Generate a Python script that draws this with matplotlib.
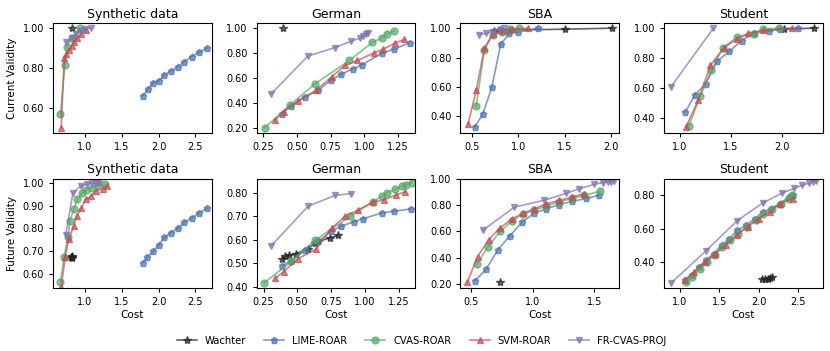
import matplotlib
matplotlib.use("Agg")
import matplotlib.pyplot as plt
from matplotlib.ticker import FormatStrFormatter

# ---- Synthetic data, current validity ----
syn_cur_wach_x = [0.82]
syn_cur_wach_y = [1.00]
syn_cur_lime_x = [1.79, 1.86, 1.93, 2.00, 2.08, 2.17, 2.26, 2.35, 2.45, 2.55, 2.66]
syn_cur_lime_y = [0.66, 0.694, 0.726, 0.733, 0.765, 0.785, 0.805, 0.83, 0.857, 0.879, 0.90]
syn_cur_cvas_x = [0.67, 0.73, 0.76, 0.82, 0.94]
syn_cur_cvas_y = [0.57, 0.815, 0.905, 0.95, 1.00]
syn_cur_svm_x = [0.68, 0.72, 0.75, 0.78, 0.82, 0.86, 0.90, 0.95, 1.02]
syn_cur_svm_y = [0.50, 0.85, 0.87, 0.89, 0.91, 0.93, 0.95, 0.97, 0.99]
syn_cur_fr_x = [0.75, 0.82, 0.88, 0.95, 1.00, 1.09]
syn_cur_fr_y = [0.93, 0.95, 0.97, 0.985, 0.995, 1.00]

# ---- German, current validity ----
ger_cur_wach_x = [0.395]
ger_cur_wach_y = [1.00]
ger_cur_lime_x = [0.387, 0.457, 0.557, 0.657, 0.75, 0.826, 0.92, 0.986, 1.13, 1.22, 1.34]
ger_cur_lime_y = [0.314, 0.376, 0.444, 0.50, 0.58, 0.628, 0.675, 0.707, 0.797, 0.83, 0.883]
ger_cur_cvas_x = [0.26, 0.45, 0.63, 0.89, 1.06, 1.13, 1.17, 1.225]
ger_cur_cvas_y = [0.20, 0.385, 0.55, 0.74, 0.886, 0.92, 0.954, 0.978]
ger_cur_svm_x = [0.337, 0.40, 0.507, 0.64, 0.76, 0.856, 0.95, 1.07, 1.14, 1.23, 1.30]
ger_cur_svm_y = [0.26, 0.33, 0.417, 0.50, 0.61, 0.70, 0.74, 0.80, 0.83, 0.88, 0.91]
ger_cur_fr_x = [0.307, 0.58, 0.78, 0.90, 0.97, 0.99, 1.01, 1.03]
ger_cur_fr_y = [0.471, 0.775, 0.843, 0.894, 0.92, 0.94, 0.95, 0.96]

# ---- SBA, current validity ----
sba_cur_wach_x = [0.73, 0.80, 0.90, 1.50, 2.02]
sba_cur_wach_y = [0.984, 0.985, 0.987, 0.993, 1.00]
sba_cur_lime_x = [0.525, 0.614, 0.71, 0.807, 0.90, 1.00, 1.21]
sba_cur_lime_y = [0.328, 0.418, 0.597, 0.89, 0.964, 0.973, 1.00]
sba_cur_cvas_x = [0.54, 0.63, 0.72, 0.82, 0.91, 1.01]
sba_cur_cvas_y = [0.468, 0.853, 0.955, 0.977, 0.995, 1.00]
sba_cur_svm_x = [0.453, 0.543, 0.63, 0.72, 0.836, 0.925, 1.10]
sba_cur_svm_y = [0.35, 0.58, 0.864, 0.96, 0.98, 0.993, 1.00]
sba_cur_fr_x = [0.57, 0.65, 0.72, 0.80, 0.84]
sba_cur_fr_y = [0.955, 0.965, 0.975, 0.99, 1.00]

# ---- Student, current validity ----
stu_cur_wach_x = [2.02, 2.32]
stu_cur_wach_y = [0.993, 1.00]
stu_cur_lime_x = [1.055, 1.145, 1.255, 1.365, 1.484, 1.606, 1.726, 1.87, 1.98, 2.16]
stu_cur_lime_y = [0.438, 0.551, 0.629, 0.778, 0.844, 0.916, 0.967, 0.978, 0.993, 1.00]
stu_cur_cvas_x = [1.087, 1.20, 1.31, 1.42, 1.56, 1.726, 1.816, 1.97]
stu_cur_cvas_y = [0.344, 0.544, 0.718, 0.867, 0.938, 0.96, 0.993, 1.00]
stu_cur_svm_x = [1.06, 1.18, 1.30, 1.43, 1.56, 1.67, 1.816, 2.10]
stu_cur_svm_y = [0.338, 0.518, 0.751, 0.867, 0.927, 0.967, 0.984, 1.00]
stu_cur_fr_x = [0.913, 1.33]
stu_cur_fr_y = [0.607, 1.00]

# ---- Synthetic data, future validity ----
syn_fut_wach_x = [0.81, 0.82, 0.83, 0.82]
syn_fut_wach_y = [0.672, 0.678, 0.675, 0.670]
syn_fut_lime_x = [1.79, 1.85, 1.93, 2.00, 2.08, 2.17, 2.26, 2.35, 2.45, 2.55, 2.66]
syn_fut_lime_y = [0.648, 0.675, 0.70, 0.727, 0.76, 0.782, 0.80, 0.827, 0.846, 0.868, 0.89]
syn_fut_cvas_x = [0.67, 0.72, 0.77, 0.80, 0.85, 0.90, 0.96, 1.02, 1.10, 1.18, 1.27]
syn_fut_cvas_y = [0.565, 0.675, 0.76, 0.835, 0.885, 0.93, 0.955, 0.97, 0.98, 0.99, 0.995]
syn_fut_svm_x = [0.68, 0.735, 0.78, 0.85, 0.89, 0.955, 1.01, 1.09, 1.15, 1.24, 1.30]
syn_fut_svm_y = [0.543, 0.675, 0.752, 0.81, 0.857, 0.891, 0.928, 0.943, 0.966, 0.976, 0.988]
syn_fut_fr_x = [0.74, 0.84, 0.95, 1.03, 1.10, 1.15, 1.19]
syn_fut_fr_y = [0.77, 0.958, 0.988, 0.995, 1.00, 1.00, 1.00]

# ---- German, future validity ----
ger_fut_wach_x = [0.39, 0.406, 0.44, 0.486, 0.575, 0.63, 0.654, 0.741, 0.803]
ger_fut_wach_y = [0.517, 0.529, 0.533, 0.54, 0.56, 0.586, 0.593, 0.607, 0.619]
ger_fut_lime_x = [0.39, 0.456, 0.555, 0.654, 0.749, 0.823, 0.915, 0.982, 1.126, 1.213, 1.337]
ger_fut_lime_y = [0.489, 0.511, 0.554, 0.593, 0.636, 0.657, 0.676, 0.689, 0.714, 0.721, 0.731]
ger_fut_cvas_x = [0.257, 0.456, 0.63, 0.89, 1.056, 1.126, 1.163, 1.22, 1.27, 1.305, 1.344]
ger_fut_cvas_y = [0.417, 0.507, 0.597, 0.70, 0.76, 0.786, 0.80, 0.814, 0.829, 0.834, 0.843]
ger_fut_svm_x = [0.337, 0.40, 0.505, 0.64, 0.754, 0.853, 0.947, 1.056, 1.138, 1.225, 1.295]
ger_fut_svm_y = [0.436, 0.464, 0.519, 0.56, 0.65, 0.70, 0.726, 0.76, 0.769, 0.79, 0.804]
ger_fut_fr_x = [0.307, 0.58, 0.78, 0.897]
ger_fut_fr_y = [0.574, 0.743, 0.789, 0.796]

# ---- SBA, future validity ----
sba_fut_wach_x = [0.736]
sba_fut_wach_y = [0.213]
sba_fut_lime_x = [0.53, 0.62, 0.714, 0.814, 0.912, 1.007, 1.107, 1.215, 1.318, 1.432, 1.54]
sba_fut_lime_y = [0.228, 0.314, 0.46, 0.568, 0.67, 0.736, 0.771, 0.804, 0.827, 0.85, 0.873]
sba_fut_cvas_x = [0.543, 0.633, 0.733, 0.83, 0.917, 1.012, 1.107, 1.215, 1.318, 1.419, 1.549]
sba_fut_cvas_y = [0.352, 0.482, 0.60, 0.68, 0.733, 0.761, 0.792, 0.825, 0.85, 0.873, 0.906]
sba_fut_svm_x = [0.465, 0.55, 0.64, 0.733, 0.83, 0.917, 1.012, 1.107, 1.215, 1.318, 1.419]
sba_fut_svm_y = [0.213, 0.41, 0.538, 0.627, 0.695, 0.736, 0.771, 0.81, 0.835, 0.86, 0.886]
sba_fut_fr_x = [0.592, 0.85, 1.093, 1.27, 1.378, 1.50, 1.568, 1.608, 1.635, 1.66]
sba_fut_fr_y = [0.609, 0.784, 0.837, 0.888, 0.924, 0.957, 0.97, 0.975, 0.977, 0.98]

# ---- Student, future validity ----
stu_fut_wach_x = [2.04, 2.08, 2.12, 2.15, 2.17]
stu_fut_wach_y = [0.30, 0.298, 0.30, 0.305, 0.31]
stu_fut_lime_x = [1.07, 1.15, 1.24, 1.33, 1.43, 1.53, 1.63, 1.73, 1.84, 1.95, 2.05, 2.16, 2.27, 2.38, 2.43]
stu_fut_lime_y = [0.29, 0.32, 0.37, 0.41, 0.45, 0.50, 0.54, 0.59, 0.62, 0.66, 0.70, 0.72, 0.75, 0.79, 0.80]
stu_fut_cvas_x = [1.08, 1.16, 1.25, 1.34, 1.44, 1.54, 1.64, 1.74, 1.85, 1.96, 2.06, 2.17, 2.28, 2.38, 2.42]
stu_fut_cvas_y = [0.28, 0.31, 0.36, 0.40, 0.44, 0.49, 0.53, 0.57, 0.61, 0.65, 0.69, 0.72, 0.75, 0.78, 0.80]
stu_fut_svm_x = [1.06, 1.18, 1.32, 1.45, 1.58, 1.72, 1.86, 2.00, 2.14, 2.27, 2.43]
stu_fut_svm_y = [0.29, 0.34, 0.40, 0.45, 0.50, 0.56, 0.61, 0.66, 0.70, 0.75, 0.78]
stu_fut_fr_x = [0.888, 1.333, 1.729, 2.054, 2.29, 2.446, 2.554, 2.638, 2.69, 2.73]
stu_fut_fr_y = [0.272, 0.467, 0.648, 0.755, 0.812, 0.841, 0.861, 0.873, 0.881, 0.885]

titles = ["Synthetic data", "German", "SBA", "Student"]
methods = ["Wachter", "LIME-ROAR", "CVAS-ROAR", "SVM-ROAR", "FR-CVAS-PROJ"]

# style per method
colors = ["#222222", "#4C72B0", "#55A868", "#C44E52", "#8172B2"]
markers = ["*", "p", "o", "^", "v"]

panels = [
    [(syn_cur_wach_x, syn_cur_wach_y), (syn_cur_lime_x, syn_cur_lime_y), (syn_cur_cvas_x, syn_cur_cvas_y),
     (syn_cur_svm_x, syn_cur_svm_y), (syn_cur_fr_x, syn_cur_fr_y)],
    [(ger_cur_wach_x, ger_cur_wach_y), (ger_cur_lime_x, ger_cur_lime_y), (ger_cur_cvas_x, ger_cur_cvas_y),
     (ger_cur_svm_x, ger_cur_svm_y), (ger_cur_fr_x, ger_cur_fr_y)],
    [(sba_cur_wach_x, sba_cur_wach_y), (sba_cur_lime_x, sba_cur_lime_y), (sba_cur_cvas_x, sba_cur_cvas_y),
     (sba_cur_svm_x, sba_cur_svm_y), (sba_cur_fr_x, sba_cur_fr_y)],
    [(stu_cur_wach_x, stu_cur_wach_y), (stu_cur_lime_x, stu_cur_lime_y), (stu_cur_cvas_x, stu_cur_cvas_y),
     (stu_cur_svm_x, stu_cur_svm_y), (stu_cur_fr_x, stu_cur_fr_y)],
    [(syn_fut_wach_x, syn_fut_wach_y), (syn_fut_lime_x, syn_fut_lime_y), (syn_fut_cvas_x, syn_fut_cvas_y),
     (syn_fut_svm_x, syn_fut_svm_y), (syn_fut_fr_x, syn_fut_fr_y)],
    [(ger_fut_wach_x, ger_fut_wach_y), (ger_fut_lime_x, ger_fut_lime_y), (ger_fut_cvas_x, ger_fut_cvas_y),
     (ger_fut_svm_x, ger_fut_svm_y), (ger_fut_fr_x, ger_fut_fr_y)],
    [(sba_fut_wach_x, sba_fut_wach_y), (sba_fut_lime_x, sba_fut_lime_y), (sba_fut_cvas_x, sba_fut_cvas_y),
     (sba_fut_svm_x, sba_fut_svm_y), (sba_fut_fr_x, sba_fut_fr_y)],
    [(stu_fut_wach_x, stu_fut_wach_y), (stu_fut_lime_x, stu_fut_lime_y), (stu_fut_cvas_x, stu_fut_cvas_y),
     (stu_fut_svm_x, stu_fut_svm_y), (stu_fut_fr_x, stu_fut_fr_y)],
]

# axis limits and ticks per panel
xlims = [(0.57, 2.72), (0.20, 1.38), (0.37, 2.09), (0.845, 2.40),
         (0.57, 2.72), (0.20, 1.37), (0.41, 1.70), (0.80, 2.81)]
ylims = [(0.474, 1.025), (0.16, 1.04), (0.29, 1.034), (0.30, 1.033),
         (0.536, 1.02), (0.393, 0.86), (0.17, 1.0), (0.242, 0.90)]
xticks = [[1.0, 1.5, 2.0, 2.5], [0.25, 0.5, 0.75, 1.0, 1.25], [0.5, 1.0, 1.5, 2.0], [1.0, 1.5, 2.0],
          [1.0, 1.5, 2.0, 2.5], [0.25, 0.5, 0.75, 1.0, 1.25], [0.5, 1.0, 1.5], [1.0, 1.5, 2.0, 2.5]]
yticks = [[0.6, 0.8, 1.0], [0.2, 0.4, 0.6, 0.8, 1.0], [0.4, 0.6, 0.8, 1.0], [0.4, 0.6, 0.8, 1.0],
          [0.6, 0.7, 0.8, 0.9, 1.0], [0.4, 0.5, 0.6, 0.7, 0.8], [0.2, 0.4, 0.6, 0.8, 1.0], [0.4, 0.6, 0.8]]

fig, axes = plt.subplots(2, 4, figsize=(8.3, 3.51), dpi=100)
fig.subplots_adjust(left=0.064, right=0.991, top=0.934, bottom=0.179, wspace=0.285, hspace=0.42)

for i, ax in enumerate(axes.flat):
    for j, (xs, ys) in enumerate(panels[i]):
        ms = 6 if markers[j] == "*" else 5
        ax.plot(xs, ys, color=colors[j], marker=markers[j], markersize=ms, linewidth=1.2,
                alpha=0.7, label=methods[j])
    ax.set_xlim(xlims[i])
    ax.set_ylim(ylims[i])
    ax.set_xticks(xticks[i])
    ax.set_yticks(yticks[i])
    ax.yaxis.set_major_formatter(FormatStrFormatter("%.2f"))
    ax.tick_params(labelsize=7, length=3)
    ax.set_title(titles[i % 4], fontsize=9, pad=4)
    if i >= 4:
        ax.set_xlabel("Cost", fontsize=7.5, labelpad=2)

axes[0, 0].set_ylabel("Current Validity", fontsize=7.5)
axes[1, 0].set_ylabel("Future Validity", fontsize=7.5)

handles, labels = axes[0, 0].get_legend_handles_labels()
fig.legend(handles, labels, loc="lower center", ncol=5, frameon=False, fontsize=7.2,
           bbox_to_anchor=(0.508, -0.01), columnspacing=1.8, handlelength=2.0)

plt.savefig("out.png", dpi=100)
